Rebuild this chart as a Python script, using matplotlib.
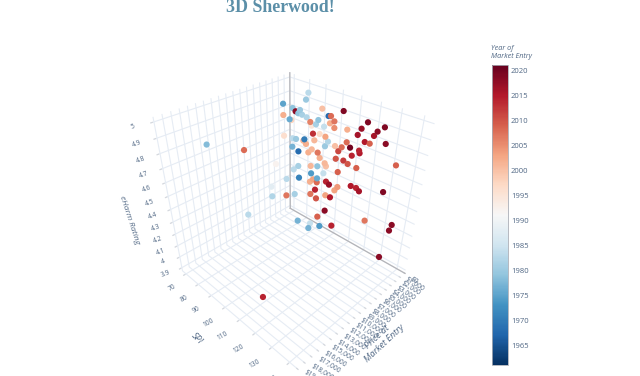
import matplotlib

matplotlib.use("Agg")

import matplotlib.pyplot as plt

price = [
    1200, 1200, 3400, 1200, 1200, 1200, 1200, 1200, 1200, 1200, 1200, 1200, 3400, 1200, 1200, 2200, 1200, 1200, 1200,
    1200, 1200, 1200, 1200, 1200, 1200, 1200, 1200, 1200, 1200, 1200, 1200, 1200, 1200, 3400, 1200, 1200, 1200, 1200,
    1200, 1200, 1200, 1200, 1200, 1200, 1200, 1200, 16000, 9500, 1200, 1200, 1200, 1200, 1200, 1200, 1200, 1200, 1200,
    1200, 1200, 1200, 1200, 1200, 1200, 1200, 1200, 1200, 1200, 1200, 1200, 5000, 1200, 1200, 1200, 1200, 1200, 1200,
    1200, 1200, 2200, 1200, 1200, 1200, 1200, 1200, 1200, 1200, 1200, 1200, 1200, 1200, 1200, 5000, 1200, 5000, 1200,
    2200, 1200, 1200, 1200, 1200, 9500, 1200, 1200, 3400, 2200, 3400, 1200, 1200, 1200, 1200, 1200, 1200, 16000,
]
spi = [
    83.6, 82.2, 75.7, 73.5, 92.3, 104.5, 75.5, 78.4, 77.3, 79.8, 96.2, 97.6, 75.8, 82.8, 90.2, 75.3, 72.6, 85.2, 97.2,
    99.7, 88.8, 93.8, 86.1, 99.9, 117.6, 126.0, 114.7, 122.8, 107.2, 113.0, 121.3, 87.1, 91.3, 76.1, 73.5, 75.9, 81.6,
    80.9, 88.1, 94.9, 96.6, 82.7, 107.4, 117.0, 119.6, 127.4, 83.3, 74.4, 73.3, 94.9, 100.9, 104.8, 109.5, 103.0, 77.6,
    86.6, 84.4, 90.5, 114.5, 114.9, 110.8, 91.9, 101.8, 106.3, 108.9, 95.2, 96.1, 133.6, 113.9, 76.6, 77.6, 74.3, 86.2,
    90.6, 103.5, 86.6, 94.7, 78.2, 72.9, 90.7, 88.0, 86.0, 90.6, 96.6, 98.6, 111.7, 114.8, 116.6, 129.3, 103.9, 102.2,
    72.7, 89.6, 73.2, 75.1, 72.6, 86.5, 96.6, 99.7, 90.5, 74.2, 96.7, 91.9, 85.7, 90.3, 93.4, 93.6, 101.7, 121.5, 136.0,
    135.1, 132.0, 112.2,
]
rating = [
    4.966, 4.912, 4.892, 4.816, 4.890, 4.925, 4.800, 4.822, 4.793, 4.793, 4.855, 4.861, 4.811, 4.787, 4.800, 4.756,
    4.721, 4.763, 4.808, 4.833, 4.762, 4.768, 4.740, 4.787, 4.908, 4.914, 4.852, 4.871, 4.810, 4.801, 4.835, 4.684,
    4.702, 4.657, 4.581, 4.587, 4.613, 4.599, 4.638, 4.699, 4.671, 4.582, 4.721, 4.772, 4.774, 4.812, 4.882, 4.663,
    4.511, 4.627, 4.660, 4.671, 4.693, 4.632, 4.495, 4.559, 4.523, 4.554, 4.698, 4.681, 4.641, 4.519, 4.568, 4.579,
    4.568, 4.495, 4.476, 4.700, 4.566, 4.468, 4.371, 4.322, 4.421, 4.444, 4.473, 4.361, 4.410, 4.272, 4.252, 4.343,
    4.318, 4.285, 4.308, 4.352, 4.339, 4.412, 4.416, 4.401, 4.479, 4.353, 4.314, 4.251, 4.237, 4.168, 4.101, 4.098,
    4.178, 4.234, 4.237, 4.165, 4.135, 4.096, 4.004, 3.984, 3.957, 3.973, 3.926, 3.993, 4.191, 4.266, 4.212, 3.952,
    3.967,
]
year = [
    1983, 1980, 1975, 1979, 2000, 2019, 2018, 1980, 1979, 1981, 1968, 2008, 2002, 1982, 1979, 1976, 1998, 2006, 2002,
    2007, 1981, 1984, 1995, 2005, 2019, 2019, 2017, 2018, 2002, 2016, 2016, 2013, 1997, 1996, 1983, 1980, 1970, 2001,
    2001, 2003, 1982, 2002, 2008, 2015, 2009, 2018, 1978, 2008, 1977, 1980, 2000, 2008, 2020, 2011, 1968, 2001, 2002,
    2007, 2014, 2015, 2014, 2002, 2010, 2012, 2010, 2001, 2000, 2009, 2009, 1992, 1981, 1983, 2001, 1979, 2009, 1974,
    1984, 1971, 1983, 1976, 2003, 2002, 2008, 2014, 2017, 2015, 2014, 2016, 2019, 2004, 2003, 1988, 2014, 1982, 1981,
    2007, 2007, 2003, 2015, 2010, 1983, 2018, 2009, 1977, 1984, 1977, 1974, 2014, 2007, 2018, 2018, 2018, 2014,
]

price_ticks = list(range(0, 20000, 1000))
price_labels = [f"${p:,}" for p in price_ticks]
spi_ticks = [70, 80, 90, 100, 110, 120, 130, 140]
rating_ticks = [3.9, 4, 4.1, 4.2, 4.3, 4.4, 4.5, 4.6, 4.7, 4.8, 4.9, 5]
rating_labels = ["3.9", "4", "4.1", "4.2", "4.3", "4.4", "4.5", "4.6", "4.7", "4.8", "4.9", "5"]
year_ticks = [1965, 1970, 1975, 1980, 1985, 1990, 1995, 2000, 2005, 2010, 2015, 2020]

price_lim = (0, 19353.8)
spi_lim = (67, 144.533)
rating_lim = (3.87, 5.03)

text_color = "#506784"
grid_color = "#e6ecf4"

plt.rcParams["font.family"] = ["Open Sans", "DejaVu Sans"]

fig = plt.figure(figsize=(6.4, 3.76), dpi=100)
ax = fig.add_axes([136.66 / 640, 15.53 / 376, 303.2 / 640, 303.2 / 376], projection="3d")
ax.view_init(34.5358, 44.5635)
ax.set_proj_type("persp", focal_length=0.2681)
ax.set_box_aspect((0.9704, 1, 1.0233))

points = ax.scatter(
    price, spi, rating, c=year, cmap="RdBu_r", vmin=1961.1, vmax=2021, s=20, depthshade=False, linewidths=0, alpha=1
)

# the two darker edges at the back of the box
ax.plot([price_lim[0]] * 2, [spi_lim[0]] * 2, rating_lim, color="#b4b4b8", lw=0.9)
ax.plot([price_lim[0]] * 2, spi_lim, [rating_lim[0]] * 2, color="#b4b4b8", lw=0.9)

ax.set_xlim(*price_lim)
ax.set_ylim(*spi_lim)
ax.set_zlim(*rating_lim)

ax.set_xticks(price_ticks, labels=price_labels, rotation=-32, fontsize=4.8, color=text_color, ha="left", va="center")
ax.set_yticks(spi_ticks, labels=[str(s) for s in spi_ticks], rotation=30, fontsize=4.8, color=text_color, ha="right", va="center")
ax.set_zticks(rating_ticks, labels=rating_labels, rotation=20, fontsize=4.8, color=text_color, ha="center", va="top")

for axis in (ax.xaxis, ax.yaxis, ax.zaxis):
    axis.set_pane_color((1, 1, 1, 0))
    axis.pane.set_edgecolor((1, 1, 1, 0))
    axis.line.set_color((1, 1, 1, 0))
    axis._axinfo["grid"].update(color=grid_color, linewidth=0.8)
    axis._axinfo["tick"].update(inward_factor=0, outward_factor=0.12)
ax.tick_params(axis="both", colors="#d5d8dd", width=0.6, labelcolor=text_color)
ax.tick_params(axis="x", pad=-4)
ax.tick_params(axis="y", pad=-1)
ax.tick_params(axis="z", pad=-1)
ax.patch.set_alpha(0)

cax = fig.add_axes([492 / 640, 1 - 365 / 376, 16 / 640, 300 / 376])
bar = fig.colorbar(points, cax=cax)
bar.set_ticks(year_ticks)
bar.ax.tick_params(labelsize=5.5, labelcolor=text_color, length=0, pad=2)
bar.outline.set_edgecolor("#a9adb5")
bar.outline.set_linewidth(0.6)

fig.text(491 / 640, 1 - 60 / 376, "Year of\nMarket Entry", fontsize=5.2, style="italic", color=text_color, ha="left", va="bottom", linespacing=1.1)
fig.text(280 / 640, 1 - 8 / 376, "3D Sherwood!", fontsize=12.9, fontweight="bold", family="Liberation Serif", color="#5b8fa8", ha="center", va="center")

fig.text(129 / 640, 1 - 220 / 376, "eHarm Rating", fontsize=6, style="italic", color=text_color, rotation=-72, ha="center", va="center")
fig.text(197 / 640, 1 - 339 / 376, "SPI", fontsize=6.5, style="italic", color=text_color, rotation=-45, ha="center", va="center")
fig.text(381 / 640, 1 - 340 / 376, "Price at\nMarket Entry", fontsize=6.5, style="italic", color=text_color, rotation=43, ha="center", va="center", linespacing=1.1)

fig.savefig("out.png", dpi=100, facecolor="white")
